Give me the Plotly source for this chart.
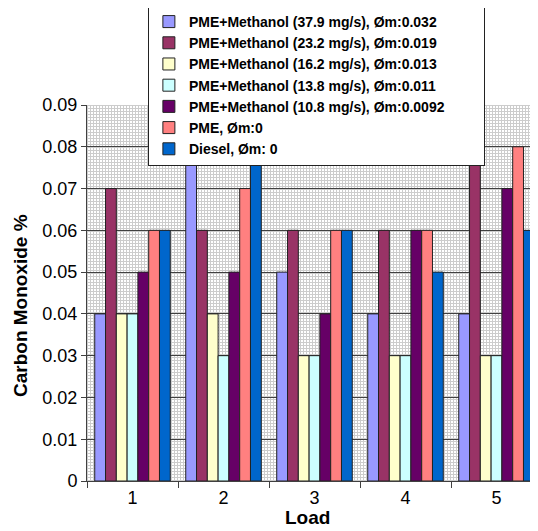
import base64
import plotly.graph_objects as go

loads = ["1", "2", "3", "4", "5"]
series_names = [
    "PME+Methanol (37.9 mg/s), Øm:0.032",
    "PME+Methanol (23.2 mg/s), Øm:0.019",
    "PME+Methanol (16.2 mg/s), Øm:0.013",
    "PME+Methanol (13.8 mg/s), Øm:0.011",
    "PME+Methanol (10.8 mg/s), Øm:0.0092",
    "PME, Øm:0",
    "Diesel, Øm: 0",
]
m379 = [0.04, 0.08, 0.05, 0.04, 0.04]
m232 = [0.07, 0.06, 0.06, 0.06, 0.08]
m162 = [0.04, 0.04, 0.03, 0.03, 0.03]
m138 = [0.04, 0.03, 0.03, 0.03, 0.03]
m108 = [0.05, 0.05, 0.04, 0.06, 0.07]
pme = [0.06, 0.07, 0.06, 0.06, 0.08]
diesel = [0.06, 0.08, 0.06, 0.05, 0.06]
series_values = [m379, m232, m162, m138, m108, pme, diesel]
colors = ["#9999FF", "#993366", "#FFFFCC", "#CCFFFF", "#660066", "#FF8080", "#0066CC"]
y_ticks = [0, 0.01, 0.02, 0.03, 0.04, 0.05, 0.06, 0.07, 0.08, 0.09]

FONT = "Arial, Liberation Sans, sans-serif"

fig = go.Figure()
for name, vals, col in zip(series_names, series_values, colors):
    fig.add_trace(go.Bar(
        x=loads, y=vals, name=name,
        marker=dict(color=col, line=dict(color="#222222", width=1)),
    ))

# background hatch pattern of the plot area
W, H = 451, 376
svg = (
    f'<svg xmlns="http://www.w3.org/2000/svg" width="{W}" height="{H}">'
    '<defs><pattern id="p" width="3" height="3" patternUnits="userSpaceOnUse">'
    '<rect width="3" height="3" fill="#ffffff"/>'
    '<rect width="3" height="1" fill="#cccccc"/>'
    '<rect width="1" height="3" fill="#cccccc"/>'
    '</pattern></defs>'
    '<rect width="100%" height="100%" fill="url(#p)"/></svg>'
)
uri = "data:image/svg+xml;base64," + base64.b64encode(svg.encode()).decode()

fig.update_layout(
    width=530, height=523,
    margin=dict(l=79, r=0, t=97, b=50, autoexpand=False),
    paper_bgcolor="white",
    plot_bgcolor="white",
    barmode="group",
    bargap=0.17,
    bargroupgap=0,
    font=dict(family=FONT, color="black"),
    images=[dict(source=uri, xref="x domain", yref="y domain", x=0, y=1,
                 sizex=1, sizey=1, sizing="stretch", layer="below",
                 xanchor="left", yanchor="top")],
    legend=dict(
        orientation="h", entrywidth=290, entrywidthmode="pixels",
        x=0.135, y=1.266, xanchor="left", yanchor="top",
        bgcolor="white", bordercolor="#222222", borderwidth=1,
        font=dict(family=FONT, size=14, weight="bold", color="black"),
        itemwidth=30, traceorder="normal",
    ),
    xaxis=dict(
        type="category", range=[-0.5, 4.456],
        tickson="boundaries", ticks="outside", ticklen=6, tickcolor="#404040",
        showline=True, linecolor="#404040", linewidth=1,
        showgrid=False, automargin=False,
        tickfont=dict(family=FONT, size=18, color="black"),
    ),
    yaxis=dict(
        range=[0, 0.09], tickvals=y_ticks,
        ticks="outside", ticklen=5, tickcolor="#404040",
        showline=True, linecolor="#404040", linewidth=1,
        showgrid=True, gridcolor="#404040", gridwidth=1,
        zeroline=False, automargin=False,
        tickfont=dict(family=FONT, size=18, color="black"),
    ),
    annotations=[
        dict(text="Carbon Monoxide %", xref="paper", yref="paper",
             x=-0.1486, y=0.468, textangle=-90, showarrow=False,
             xanchor="center", yanchor="middle",
             font=dict(family=FONT, size=19, weight="bold", color="black")),
        dict(text="Load", xref="paper", yref="paper",
             x=0.488, y=-0.0984, showarrow=False,
             xanchor="center", yanchor="middle",
             font=dict(family=FONT, size=19, weight="bold", color="black")),
    ],
)

fig.write_html("out.html")
